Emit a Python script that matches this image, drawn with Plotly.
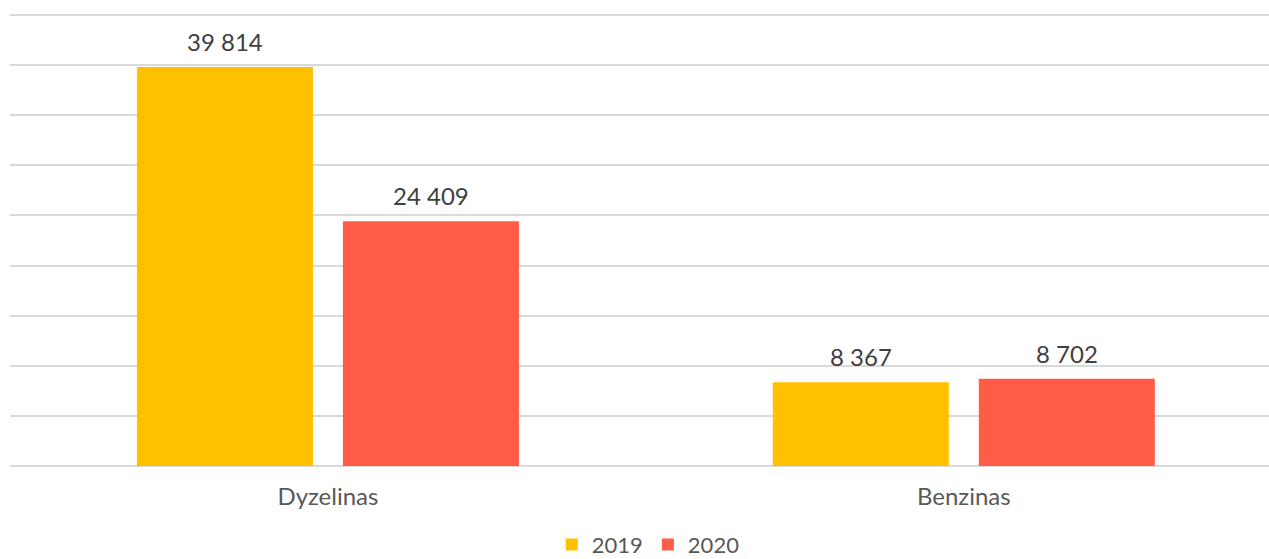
import plotly.graph_objects as go

categories = ["Dyzelinas", "Benzinas"]
values_2019 = [39814, 8367]
values_2020 = [24409, 8702]
series_names = ["2019", "2020"]
colors = ["#FFC000", "#FF5B47"]

def fmt(v):
    return f"{v:,}".replace(",", " ")

fig = go.Figure()
for name, vals, col in zip(series_names, [values_2019, values_2020], colors):
    fig.add_trace(go.Bar(x=categories, y=vals, name=name, marker_color=col,
                         marker_line_width=0))

annotations = []
off = 103 / 636
for i, cat in enumerate(categories):
    for vals, dx in ((values_2019, -off), (values_2020, off)):
        annotations.append(dict(x=i + dx, y=vals[i], text=fmt(vals[i]), showarrow=False,
                                xref="x", yref="y", yanchor="bottom", yshift=9,
                                font=dict(family="Lato", size=24, color="#404040")))

fig.update_layout(
    width=1269, height=559,
    margin=dict(l=10, r=0, t=13, b=93, autoexpand=False),
    plot_bgcolor="white", paper_bgcolor="white",
    barmode="group", bargap=0.352, bargroupgap=0.1456,
    xaxis=dict(range=[-0.5, 1.48], showgrid=False, showline=False, ticks="",
               ticklabelstandoff=14, automargin=False,
               tickfont=dict(family="Lato", size=24, color="#595959")),
    yaxis=dict(range=[0, 45200], dtick=5000, showgrid=True, gridcolor="#D9D9D9",
               gridwidth=2, showticklabels=False, zeroline=True, zerolinecolor="#D9D9D9",
               zerolinewidth=2, automargin=False),
    legend=dict(orientation="h", x=0.507, xanchor="center", y=-0.174, yanchor="middle",
                font=dict(family="Lato", size=22, color="#595959"), traceorder="normal",
                itemwidth=30, tracegroupgap=0),
    annotations=annotations,
    showlegend=True,
)
fig.write_html("out.html")
